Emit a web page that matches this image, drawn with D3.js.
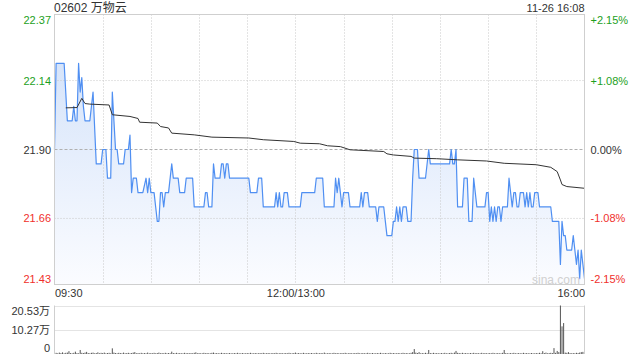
<!DOCTYPE html>
<html><head><meta charset="utf-8">
<script src="https://cdn.jsdelivr.net/npm/d3@7"></script>
<style>
body{margin:0;background:#fff}
svg{display:block;font-family:Arial,"Liberation Sans","Noto Sans CJK SC",sans-serif}
</style>
</head><body>
<svg id="c" width="640" height="360"></svg>
<script>
// ---------- data ----------
const title = "02602 万物云";
const stamp = "11-26 16:08";
const prevClose = 21.90;
const priceTicks = [22.37, 22.14, 21.90, 21.66, 21.43];
const pctTicks = ["+2.15%", "+1.08%", "0.00%", "-1.08%", "-2.15%"];
const tickColors = ["up", "up", "flat", "down", "down"];
const timeLabelMin = [0, 150, 330];
const timeLabels = ["09:30", "12:00/13:00", "16:00"];
const gridMin = [30, 60, 90, 120, 150, 180, 210, 240, 270, 300];
const volTicks = [20.53, 10.27, 0];

// price polyline vertices (minute index from 09:30, price)
const priceMin = [0,1,6,8,11,12,13,14,15,16,17,18,19,22,24,26,29,30,32,33,35,36,37,38,39,40,43,44,46,47,48,49,51,52,55,57,58,59,60,62,63,64,65,66,67,68,69,71,73,74,77,78,81,82,86,87,93,94,95,96,98,99,100,103,104,105,106,107,108,109,121,122,126,127,129,130,137,138,139,140,141,142,143,145,146,153,154,162,163,167,168,174,175,176,177,178,179,180,183,184,190,191,192,193,195,196,200,201,202,205,206,207,210,211,212,213,214,215,216,217,219,220,222,223,224,226,227,231,233,234,246,247,248,249,250,251,254,255,257,258,260,261,263,268,269,270,271,272,273,274,275,276,277,278,279,282,283,284,285,286,287,288,289,290,292,293,294,295,296,297,298,299,301,302,309,310,314,315,316,317,318,319,322,323,324,325,326,327,328,329,330];
const priceVal = [21.90,22.20,22.20,22.00,22.00,22.05,22.00,22.00,22.20,22.10,22.15,22.05,22.00,22.00,22.10,21.85,21.85,21.90,21.90,21.80,21.80,22.10,22.00,21.90,21.90,21.85,21.85,21.90,21.90,21.95,21.75,21.80,21.80,21.75,21.75,21.80,21.75,21.80,21.75,21.75,21.70,21.65,21.65,21.75,21.75,21.70,21.75,21.75,21.85,21.80,21.80,21.75,21.75,21.80,21.80,21.70,21.70,21.75,21.75,21.70,21.70,21.85,21.80,21.80,21.85,21.85,21.80,21.85,21.85,21.80,21.80,21.75,21.75,21.80,21.80,21.70,21.70,21.75,21.70,21.75,21.70,21.70,21.75,21.75,21.70,21.70,21.75,21.75,21.80,21.80,21.70,21.70,21.80,21.75,21.80,21.75,21.70,21.75,21.75,21.70,21.70,21.75,21.70,21.75,21.75,21.70,21.70,21.65,21.70,21.70,21.65,21.60,21.60,21.65,21.65,21.70,21.65,21.70,21.65,21.70,21.70,21.65,21.65,21.80,21.90,21.90,21.80,21.80,21.90,21.85,21.85,21.90,21.85,21.85,21.90,21.70,21.70,21.80,21.80,21.65,21.65,21.80,21.70,21.70,21.75,21.75,21.65,21.70,21.65,21.70,21.65,21.70,21.70,21.65,21.70,21.70,21.80,21.75,21.70,21.75,21.75,21.70,21.70,21.75,21.75,21.70,21.75,21.70,21.75,21.70,21.70,21.75,21.75,21.70,21.70,21.65,21.65,21.50,21.65,21.60,21.60,21.55,21.55,21.60,21.55,21.50,21.55,21.45,21.55,21.50,21.45];

// average price line vertices
const avgMin = [7,14,17,19,22,34,36,47,52,53,64,66,71,73,87,98,121,130,149,153,165,170,178,184,205,207,211,222,224,238,251,269,280,300,309,313,315,316,319,330];
const avgVal = [22.045,22.046,22.078,22.060,22.058,22.055,22.021,22.015,22.008,21.995,21.992,21.980,21.975,21.957,21.951,21.943,21.940,21.934,21.928,21.922,21.920,21.913,21.910,21.899,21.893,21.885,21.881,21.876,21.870,21.868,21.864,21.860,21.852,21.847,21.838,21.823,21.794,21.778,21.771,21.765];

// volume per minute (万股), index = minute
const volume = [
0.9,0.5,0.3,0.6,0.4,0.7,0.3,0.5,0.6,1.2,0.4,0.3,0.5,1.0,0.4,0.3,1.7,0.5,0.4,0.6,
0.9,0.4,0.3,0.5,0.6,0.3,0.4,0.7,0.3,0.5,0.4,0.6,0.3,0.4,0.5,0.3,2.4,0.6,0.4,0.3,
0.5,0.4,0.3,0.6,0.3,0.4,0.5,0.3,0.4,0.6,0.8,0.3,0.4,0.3,0.5,0.3,0.4,0.3,0.6,0.3,
0.4,0.3,0.5,0.3,0.4,0.6,0.3,0.4,0.3,0.5,0.3,0.4,0.3,1.0,0.4,0.3,0.5,0.3,0.4,0.3,
0.3,0.5,0.3,0.4,0.3,0.4,0.3,0.5,0.7,0.3,0.4,0.3,0.3,0.5,0.3,0.4,0.3,0.3,0.5,0.6,
0.3,0.4,0.3,0.3,0.5,0.3,0.4,0.3,0.3,0.4,0.3,0.3,0.4,0.3,0.5,0.3,0.3,0.4,0.3,0.3,
0.4,0.3,0.5,0.3,0.3,0.4,0.3,0.3,0.4,0.3,0.5,0.3,0.3,0.4,0.3,0.3,0.4,0.3,0.5,0.3,
0.3,0.4,0.3,0.3,0.4,0.3,0.5,0.3,0.3,0.4,0.6,0.3,0.4,0.3,0.3,0.5,0.3,0.3,0.4,0.3,
0.4,0.3,0.3,0.5,0.3,0.3,0.4,0.3,0.6,0.3,0.3,0.4,0.3,0.3,0.5,0.3,0.4,0.3,0.3,0.4,
0.3,0.5,0.3,0.3,0.4,0.3,0.3,0.4,0.3,0.5,0.3,0.3,0.4,0.3,0.3,0.5,0.3,0.3,0.4,0.3,
0.3,0.4,0.3,0.5,0.3,0.3,0.4,0.3,0.3,0.5,0.3,0.4,0.3,0.3,0.4,0.3,0.3,0.5,0.3,0.4,
0.3,0.3,0.5,0.8,2.1,0.6,0.4,0.8,0.3,0.4,0.3,0.5,0.3,1.7,0.4,0.3,0.5,0.3,0.4,0.3,
0.3,0.4,0.3,0.5,0.3,0.3,0.4,0.5,0.3,0.6,1.3,0.5,0.4,0.3,0.5,0.3,0.4,0.3,0.3,0.4,
0.3,0.5,0.3,0.4,0.3,0.3,0.5,0.3,0.4,0.3,0.3,0.4,0.3,0.5,0.3,0.3,0.4,0.3,0.3,0.5,
1.7,0.4,0.3,0.3,0.4,0.3,0.5,0.3,0.3,0.4,0.3,0.3,0.5,0.3,0.4,0.3,0.3,0.4,0.3,0.3,
0.4,0.3,0.5,0.3,1.2,0.4,0.6,0.3,0.4,0.5,0.4,2.5,0.5,1.3,0.8,20.53,11.7,13.1,0.6,0.5,
0.8,0.4,0.3,0.4,0.3,0.5,0.4,0.6,0.8,0.9,3.8
];

// ---------- drawing ----------
const colors = {up: "#1d9f1d", down: "#f0302c", flat: "#333333"};
const L = 54.5, R = 584.5, T = 14.5, B = 284.5;
const VT = 305.5, VB = 354;

const svg = d3.select("#c");
const x = d3.scaleLinear().domain([0, 330]).range([L, R]);
const y = d3.scaleLinear().domain([priceTicks[4], priceTicks[0]]).range([B, T]);
const yv = d3.scaleLinear().domain([0, d3.max(volume)]).range([VB, VT]);

const defs = svg.append("defs");
const grad = defs.append("linearGradient").attr("id", "ag")
  .attr("gradientUnits", "userSpaceOnUse").attr("x1", 0).attr("x2", 0)
  .attr("y1", y(22.20)).attr("y2", B);
grad.append("stop").attr("offset", 0).attr("stop-color", "#d6e4fa");
grad.append("stop").attr("offset", 1).attr("stop-color", "#fbfcff");

// header
svg.append("text").attr("x", 54).attr("y", 12).attr("font-size", 12).attr("fill", "#333").text(title);
svg.append("text").attr("x", R).attr("y", 11.5).attr("font-size", 11).attr("fill", "#333")
  .attr("text-anchor", "end").text(stamp);

// area + line
const pts = priceMin.map((m, i) => [m, priceVal[i]]);
svg.append("path").datum(pts)
  .attr("d", d3.area().x(d => x(d[0])).y0(B).y1(d => y(d[1])))
  .attr("fill", "url(#ag)");

// grid
const g = svg.append("g");
g.selectAll(".vg").data(gridMin).join("line")
  .attr("x1", d => Math.round(x(d)) + 0.5).attr("x2", d => Math.round(x(d)) + 0.5)
  .attr("y1", T).attr("y2", B)
  .attr("stroke", "#c8c8c8").attr("stroke-dasharray", "1,2");
g.selectAll(".hg").data(priceTicks.slice(1, 4)).join("line")
  .attr("x1", L).attr("x2", R).attr("y1", d => y(d)).attr("y2", d => y(d))
  .attr("stroke", d => d === prevClose ? "#b0b0b0" : "#c8c8c8")
  .attr("stroke-dasharray", d => d === prevClose ? "3,2" : "1,2");

svg.append("path").datum(pts)
  .attr("d", d3.line().x(d => x(d[0])).y(d => y(d[1])))
  .attr("fill", "none").attr("stroke", "#4f8ff2").attr("stroke-width", 1.2)
  .attr("stroke-linejoin", "round");

const apts = avgMin.map((m, i) => [m, avgVal[i]]);
svg.append("path").datum(apts)
  .attr("d", d3.line().x(d => x(d[0])).y(d => y(d[1])))
  .attr("fill", "none").attr("stroke", "#333").attr("stroke-width", 1);

// border
svg.append("rect").attr("x", L).attr("y", T).attr("width", R - L).attr("height", B - T)
  .attr("fill", "none").attr("stroke", "#cfcfcf");

// watermark
svg.append("text").attr("x", 532).attr("y", 283.5).attr("font-size", 12).attr("fill", "#d0d0d0").text("sina.com");

// axes
function styleAxis(sel) {
  sel.select(".domain").remove();
  sel.selectAll("text").attr("font-size", 11).attr("font-family", 'Arial,"Liberation Sans","Noto Sans CJK SC",sans-serif');
}
const ax1 = svg.append("g").attr("transform", `translate(${L - 0.5},0)`)
  .call(d3.axisLeft(y).tickValues(priceTicks).tickSize(0).tickPadding(3).tickFormat(d3.format(".2f")));
styleAxis(ax1);
ax1.selectAll("text").attr("fill", (d, i) => colors[tickColors[i]])
  .attr("dy", (d, i) => i === 0 ? "0.8em" : i === 4 ? "-0.2em" : "0.32em");

const ax2 = svg.append("g").attr("transform", `translate(${R},0)`)
  .call(d3.axisRight(y).tickValues(priceTicks).tickSize(0).tickPadding(6).tickFormat((d, i) => pctTicks[i]));
styleAxis(ax2);
ax2.selectAll("text").attr("fill", (d, i) => colors[tickColors[i]])
  .attr("dy", (d, i) => i === 0 ? "0.8em" : i === 4 ? "-0.2em" : "0.32em");

const ax3 = svg.append("g").attr("transform", `translate(0,${B})`)
  .call(d3.axisBottom(x).tickValues(timeLabelMin).tickSize(0).tickPadding(5).tickFormat((d, i) => timeLabels[i]));
styleAxis(ax3);
ax3.selectAll("text").attr("fill", "#333")
  .attr("text-anchor", (d, i) => i === 0 ? "start" : i === 2 ? "end" : "middle");

// volume panel
svg.append("g").selectAll("line").data(volTicks.slice(0, 2)).join("line")
  .attr("x1", L).attr("x2", R).attr("y1", d => Math.round(yv(d)) + 0.5).attr("y2", d => Math.round(yv(d)) + 0.5)
  .attr("stroke", "#c8c8c8").attr("stroke-dasharray", "1,1");
svg.append("g").selectAll("rect").data(volume).join("rect")
  .attr("x", (d, i) => x(i) - 0.5).attr("width", 1)
  .attr("y", d => yv(d)).attr("height", d => Math.max(0.6, VB - yv(d)))
  .attr("fill", "#555");
svg.append("line").attr("x1", L).attr("x2", L).attr("y1", VT).attr("y2", VB).attr("stroke", "#cfcfcf");
svg.append("line").attr("x1", R).attr("x2", R).attr("y1", VT).attr("y2", VB).attr("stroke", "#cfcfcf");

const ax4 = svg.append("g").attr("transform", `translate(${L - 0.5},0)`)
  .call(d3.axisLeft(yv).tickValues(volTicks).tickSize(0).tickPadding(4)
    .tickFormat(d => d === 0 ? "0" : d3.format(".2f")(d) + "万"));
styleAxis(ax4);
ax4.selectAll("text").attr("fill", "#333")
  .attr("dy", (d, i) => i === 0 ? "0.8em" : i === 2 ? "-0.2em" : "0.32em");
</script>
</body></html>
